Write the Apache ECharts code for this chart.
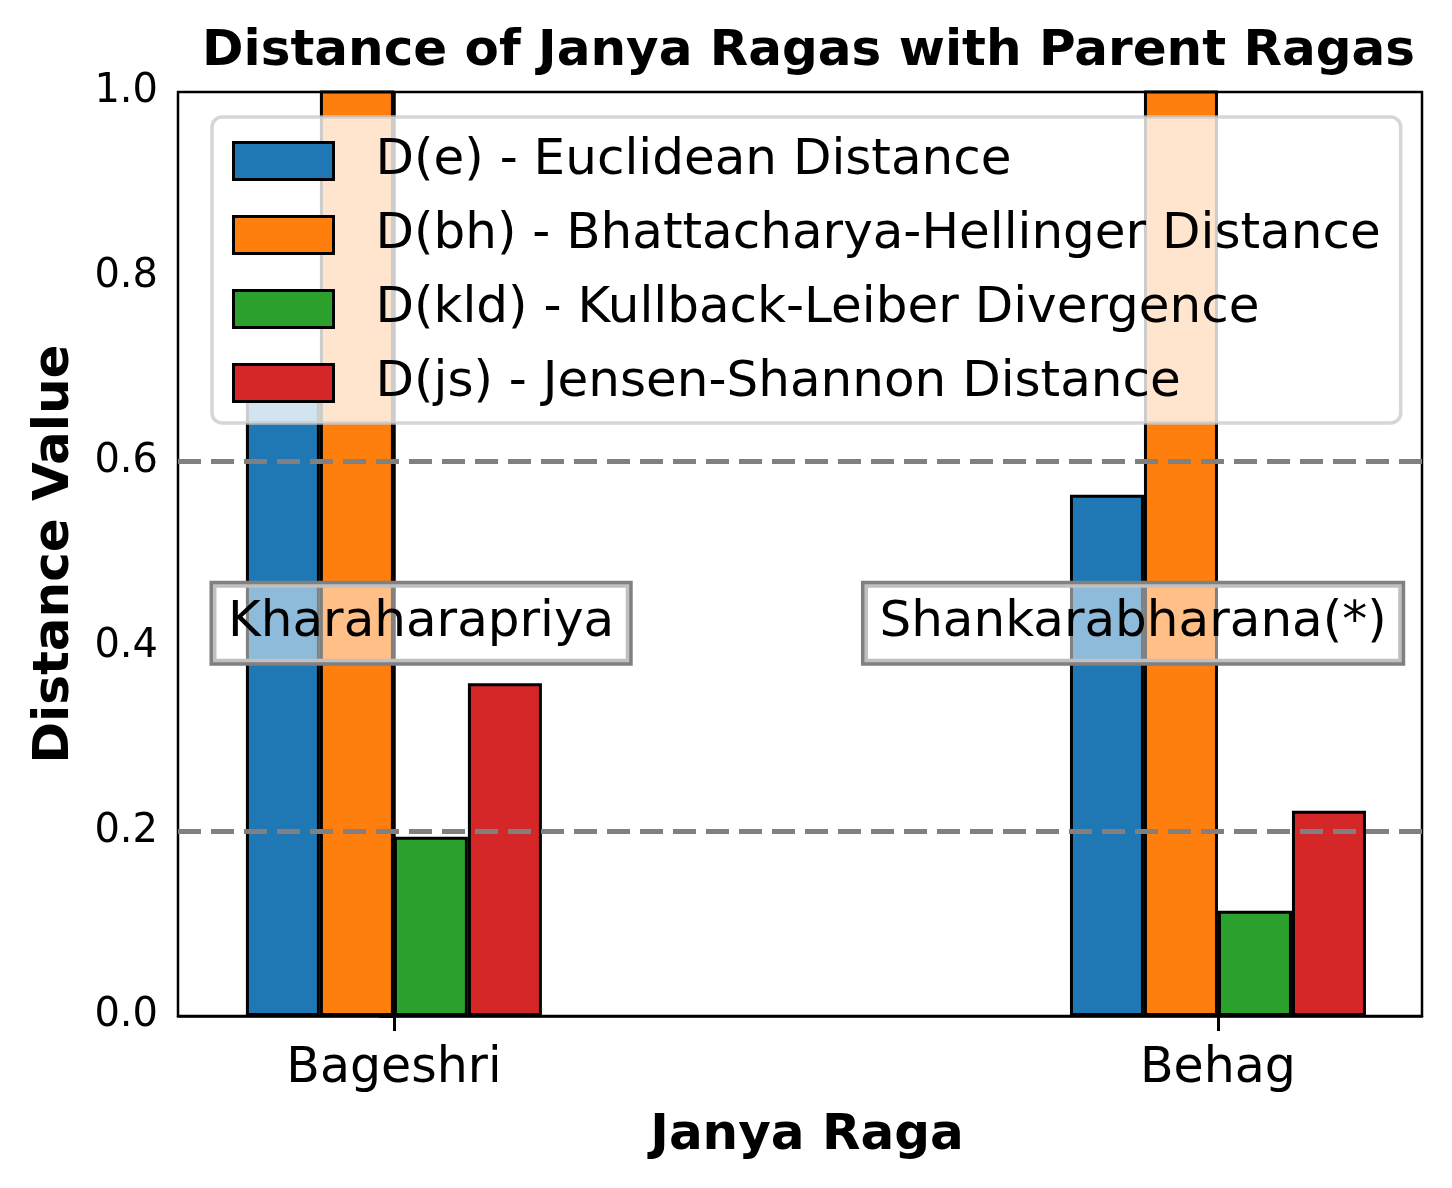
<!DOCTYPE html>
<html>
<head>
<meta charset="utf-8">
<script src="https://cdn.jsdelivr.net/npm/echarts@6/dist/echarts.min.js"></script>
<style>
  html, body { margin: 0; padding: 0; background: #fff; }
  #chart { width: 1452px; height: 1188px; }
</style>
</head>
<body>
<div id="chart"></div>
<script>
(function () {
  const ragas = ['Bageshri', 'Behag'];
  const seriesNames = [
    'D(e) - Euclidean Distance',
    'D(bh) - Bhattacharya-Hellinger Distance',
    'D(kld) - Kullback-Leiber Divergence',
    'D(js) - Jensen-Shannon Distance',
  ];
  const euclid = [0.68, 0.564];
  const hellinger = [1.25, 1.25];
  const kld = [0.194, 0.114];
  const js = [0.360, 0.222];
  const refLines = [0.6, 0.2];
  const parentNames = ['Kharaharapriya', 'Shankarabharana(*)'];
  const parentPos = [[0.033, 0.425], [0.897, 0.425]];

  const colors = ['#1f77b4', '#ff7f0e', '#2ca02c', '#d62728'];
  const values = [euclid, hellinger, kld, js];
  const font = 'DejaVu Sans';

  const myChart = echarts.init(document.getElementById('chart'));

  const barSeries = values.map((vals, i) => ({
    name: seriesNames[i],
    type: 'bar',
    barWidth: 74,
    barGap: '0%',
    clip: true,
    itemStyle: {
      color: colors[i],
      borderColor: '#000',
      borderWidth: 3,
    },
    data: vals.map((v, k) => [k, v]),
  }));

  // 灰色虚线参考线
  barSeries[3].markLine = {
    silent: true,
    symbol: 'none',
    label: { show: false },
    lineStyle: { color: '#808080', width: 5, type: [23, 10] },
    data: refLines.map((v) => ({ yAxis: v })),
  };

  const option = {
    animation: false,
    textStyle: { fontFamily: font },
    title: {
      text: 'Distance of Janya Ragas with Parent Ragas',
      left: 197,
      top: 22,
      textStyle: { fontSize: 50, fontWeight: 'bold', color: '#000', fontFamily: font },
    },
    grid: {
      left: 178,
      right: 30,
      top: 92,
      bottom: 172,
      show: true,
      borderColor: '#000',
      borderWidth: 2.5,
    },
    legend: {
      data: seriesNames,
      orient: 'vertical',
      left: 212,
      top: 117,
      icon: 'rect',
      itemWidth: 100,
      itemHeight: 37,
      itemGap: 24,
      padding: [19, 20, 15, 20],
      backgroundColor: 'rgba(255,255,255,0.8)',
      borderColor: 'rgba(204,204,204,0.8)',
      borderWidth: 3.5,
      borderRadius: 10,
      itemStyle: { borderColor: '#000', borderWidth: 3 },
      textStyle: {
        fontSize: 50,
        lineHeight: 50,
        color: '#000',
        fontFamily: font,
        padding: [0, 0, 0, 37],
      },
    },
    xAxis: {
      type: 'value',
      min: -0.262,
      max: 1.2476,
      name: 'Janya Raga',
      nameLocation: 'middle',
      nameGap: 95,
      nameTextStyle: {
        fontSize: 50,
        fontWeight: 'bold',
        color: '#000',
        fontFamily: font,
        padding: [0, 0, 0, 14],
      },
      splitLine: { show: false },
      axisLine: { lineStyle: { color: '#000', width: 2.5 } },
      axisTick: {
        customValues: [0, 1],
        length: 15,
        lineStyle: { color: '#000', width: 3 },
      },
      axisLabel: {
        customValues: [0, 1],
        formatter: (v) => ragas[Math.round(v)],
        fontSize: 49,
        color: '#000',
        margin: 29,
        fontFamily: font,
      },
    },
    yAxis: {
      type: 'value',
      min: 0,
      max: 1,
      interval: 0.2,
      name: 'Distance Value',
      nameLocation: 'middle',
      nameGap: 98,
      nameTextStyle: { fontSize: 50, fontWeight: 'bold', color: '#000', fontFamily: font },
      splitLine: { show: false },
      axisLine: { show: true, lineStyle: { color: '#000', width: 2.5 } },
      axisTick: { show: true, length: 15, lineStyle: { color: '#000', width: 3 } },
      axisLabel: {
        formatter: (v) => v.toFixed(1),
        fontSize: 40,
        color: '#000',
        margin: 20,
        fontFamily: font,
      },
    },
    series: barSeries.concat([
      {
        name: 'parents',
        type: 'scatter',
        symbolSize: 0,
        z: 5,
        silent: true,
        itemStyle: { opacity: 1 },
        label: {
          show: true,
          position: 'inside',
          formatter: (p) => parentNames[p.dataIndex],
          fontSize: 50,
          color: '#000',
          fontFamily: font,
          backgroundColor: 'rgba(255,255,255,0.5)',
          borderColor: '#808080',
          borderWidth: 3.5,
          padding: [14, 15, 14, 15],
        },
        data: parentPos,
      },
    ]),
  };

  myChart.setOption(option);

  window.addEventListener('resize', () => {
    myChart.resize();
  });
})();
</script>
</body>
</html>
